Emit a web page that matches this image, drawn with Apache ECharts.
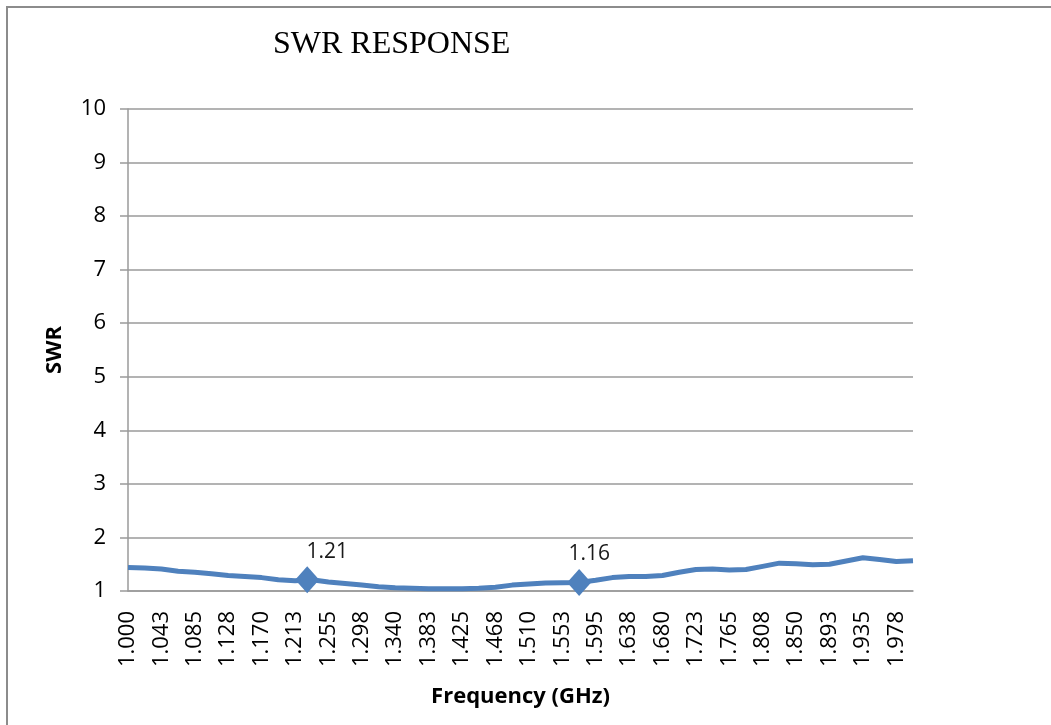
<!DOCTYPE html>
<html>
<head>
<meta charset="utf-8">
<title>SWR Response</title>
<script src="https://cdn.jsdelivr.net/npm/echarts@6/dist/echarts.min.js"></script>
<style>
  html, body { margin: 0; padding: 0; background: #fff; overflow: hidden; }
  #wrap { position: relative; width: 1051px; height: 725px; overflow: hidden; }
  #chart { position: absolute; left: 0; top: 0; width: 1051px; height: 725px; }
  /* outer chart frame, only the top and left edges are in view */
  #frame {
    position: absolute; left: 6px; top: 6px; width: 1200px; height: 900px;
    border-left: 2px solid #8c8c8c; border-top: 2px solid #8c8c8c;
    pointer-events: none;
  }
</style>
</head>
<body>
<div id="wrap">
  <div id="chart"></div>
  <div id="frame"></div>
</div>
<script>
// frequency steps (GHz), every other one is labelled on the axis
const freqLabels = [
  '1.000', '1.021', '1.043', '1.064', '1.085', '1.106', '1.128', '1.149',
  '1.170', '1.191', '1.213', '1.234', '1.255', '1.276', '1.298', '1.319',
  '1.340', '1.361', '1.383', '1.404', '1.425', '1.446', '1.468', '1.489',
  '1.510', '1.531', '1.553', '1.574', '1.595', '1.616', '1.638', '1.659',
  '1.680', '1.701', '1.723', '1.744', '1.765', '1.786', '1.808', '1.829',
  '1.850', '1.871', '1.893', '1.914', '1.935', '1.956', '1.978', '1.999'
];

// SWR
const swrValues = [
  1.44, 1.43, 1.41, 1.37, 1.35, 1.32, 1.29, 1.27,
  1.25, 1.21, 1.19, 1.21, 1.17, 1.14, 1.11, 1.08,
  1.06, 1.05, 1.04, 1.04, 1.04, 1.05, 1.07, 1.11,
  1.13, 1.15, 1.155, 1.16, 1.20, 1.25, 1.27, 1.27,
  1.29, 1.35, 1.40, 1.41, 1.39, 1.40, 1.46, 1.52,
  1.51, 1.49, 1.50, 1.56, 1.62, 1.59, 1.55, 1.565
];

// marked points: [frequency GHz, SWR]
const markerPoints = [
  [1.228, 1.21],
  [1.574, 1.16]
];
const markerOffsets = [[20, 0], [10, 0]];

const yTicks = { min: 1, max: 10, step: 1 };

const FONT = '"Open Sans", "Noto Sans", sans-serif';
const GRID_COLOR = '#9a9a9a';
const LINE_COLOR = '#4f81bd';

const chart = echarts.init(document.getElementById('chart'), null, { renderer: 'canvas' });

chart.setOption({
  animation: false,
  backgroundColor: '#ffffff',
  title: {
    text: 'SWR RESPONSE',
    left: 268,
    top: 24,
    textStyle: {
      fontFamily: '"Liberation Serif", "Times New Roman", serif',
      fontSize: 32,
      fontWeight: 'normal',
      color: '#000'
    }
  },
  grid: {
    left: 128,
    right: 138,
    top: 109,
    bottom: 134
  },
  xAxis: [{
    type: 'category',
    data: freqLabels,
    boundaryGap: false,
    name: 'Frequency (GHz)',
    nameLocation: 'middle',
    nameGap: 95,
    nameTextStyle: {
      fontFamily: FONT,
      fontSize: 22,
      fontWeight: 'bold',
      color: '#000'
    },
    axisLine: { lineStyle: { color: GRID_COLOR, width: 1.5 } },
    axisTick: { show: false },
    axisLabel: {
      interval: 1,
      rotate: 90,
      margin: 20,
      fontFamily: FONT,
      fontSize: 22,
      color: '#000'
    },
    splitLine: { show: false }
  }, {
    type: 'value',
    min: 1.0,
    max: 1.99875,
    show: false
  }],
  yAxis: {
    type: 'value',
    min: yTicks.min,
    max: yTicks.max,
    interval: yTicks.step,
    name: 'SWR',
    nameLocation: 'middle',
    nameGap: 62,
    nameTextStyle: {
      fontFamily: FONT,
      fontSize: 22,
      fontWeight: 'bold',
      color: '#000'
    },
    axisLine: { show: true, lineStyle: { color: GRID_COLOR, width: 1.5 } },
    axisTick: { show: true, length: 8, lineStyle: { color: GRID_COLOR, width: 1.5 } },
    axisLabel: {
      margin: 22,
      fontFamily: FONT,
      fontSize: 22,
      color: '#000'
    },
    splitLine: { lineStyle: { color: GRID_COLOR, width: 1.5 } }
  },
  series: [{
    name: 'SWR',
    type: 'line',
    data: swrValues,
    showSymbol: false,
    symbol: 'none',
    lineStyle: { color: LINE_COLOR, width: 5 },
    z: 2
  }, {
    name: 'markers',
    type: 'scatter',
    xAxisIndex: 1,
    symbol: 'diamond',
    symbolSize: [24, 27],
    itemStyle: { color: LINE_COLOR, opacity: 1 },
    data: markerPoints.map((p, i) => ({
      value: p,
      label: { offset: markerOffsets[i] }
    })),
    label: {
      show: true,
      position: 'top',
      distance: 4,
      fontFamily: FONT,
      fontSize: 21,
      color: '#1a1a1a',
      formatter: (p) => p.value[1].toFixed(2)
    },
    z: 3
  }]
});
</script>
</body>
</html>
